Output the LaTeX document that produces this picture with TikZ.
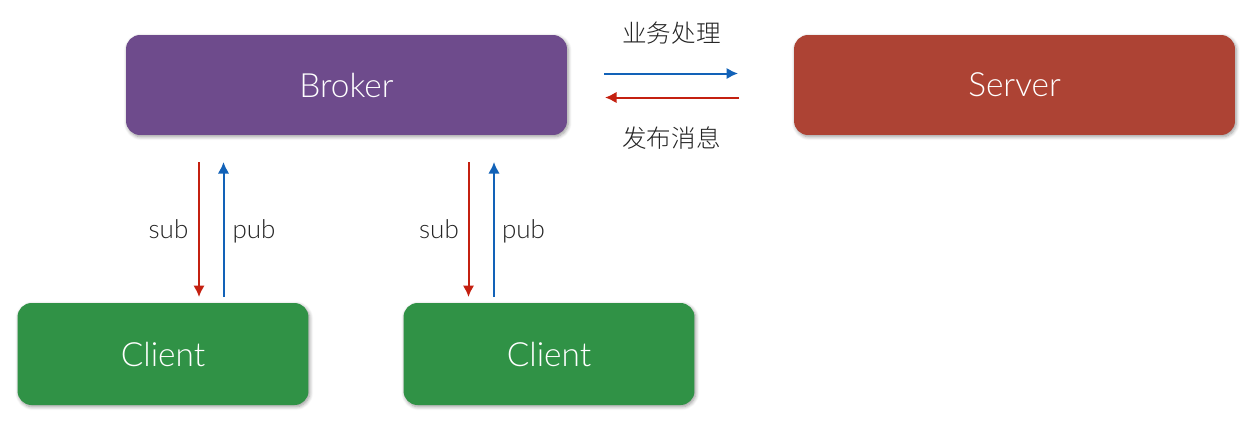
\documentclass[tikz,border=0pt]{standalone}
\usepackage{fontspec}
\setmainfont{Lato}[UprightFont=* Light]
\newfontfamily\cjk{Noto Sans CJK SC}[UprightFont=* Light]
\usetikzlibrary{arrows.meta,shadows.blur}
\definecolor{brokerpurple}{RGB}{110,75,140}
\definecolor{serverred}{RGB}{173,67,52}
\definecolor{clientgreen}{RGB}{48,146,70}
\definecolor{arrowblue}{RGB}{18,98,184}
\definecolor{arrowred}{RGB}{196,32,16}
\definecolor{labelgray}{RGB}{35,35,35}
\tikzset{
	box/.style={rounded corners=2.8mm, inner sep=0pt, text=white, font=\fontsize{19}{20}\selectfont,
		blur shadow={shadow xshift=0.25mm, shadow yshift=-0.35mm, shadow blur radius=0.7mm, shadow blur steps=6, shadow opacity=40}},
	flow/.style={line width=0.4mm, -{Latex[length=2.3mm,width=2.3mm]}},
	lbl/.style={anchor=base, text=labelgray, font=\fontsize{14.8}{16}\selectfont},
	cjklbl/.style={text=labelgray, font=\cjk\fontsize{14}{16}\selectfont},
}
\begin{document}
\begin{tikzpicture}[x=0.02cm, y=-0.02cm]
	\useasboundingbox (0, 0) rectangle (1256, 427);

	%%%%% BOXES %%%%%
	\node[box, fill=brokerpurple, minimum width=8.82cm, minimum height=2cm] (broker) at (346.5, 85) {Broker};
	\node[box, fill=serverred, minimum width=8.82cm, minimum height=2cm] (server) at (1014.5, 85) {Server};
	\node[box, fill=clientgreen, minimum width=5.82cm, minimum height=2.04cm] (clienta) at (163, 354) {Client};
	\node[box, fill=clientgreen, minimum width=5.82cm, minimum height=2.04cm] (clientb) at (549, 354) {Client};

	%%%%% ENDS OF THE ARROWS %%%%%
	\coordinate (subatop) at (199, 162);
	\coordinate (subabot) at (199, 297);
	\coordinate (pubatop) at (223.5, 162);
	\coordinate (pubabot) at (223.5, 297);
	\coordinate (subbtop) at (468.5, 162);
	\coordinate (subbbot) at (468.5, 297);
	\coordinate (pubbtop) at (494, 162);
	\coordinate (pubbbot) at (494, 297);
	\coordinate (bizleft) at (604, 73.5);
	\coordinate (bizright) at (738, 73.5);
	\coordinate (msgleft) at (605, 97.5);
	\coordinate (msgright) at (739, 97.5);

	%%%%% ARROWS %%%%%
	\draw[flow, color=arrowred] (subatop) -- (subabot);
	\draw[flow, color=arrowblue] (pubabot) -- (pubatop);
	\draw[flow, color=arrowred] (subbtop) -- (subbbot);
	\draw[flow, color=arrowblue] (pubbbot) -- (pubbtop);
	\draw[flow, color=arrowblue] (bizleft) -- (bizright);
	\draw[flow, color=arrowred] (msgright) -- (msgleft);

	%%%%% LABELS %%%%%
	\node[lbl] (suba) at (168.5, 238) {sub};
	\node[lbl] (puba) at (254, 238) {pub};
	\node[lbl] (subb) at (439, 238) {sub};
	\node[lbl] (pubb) at (523.5, 238) {pub};
	\node[cjklbl] (biz) at (671.5, 33) {业务处理};
	\node[cjklbl] (msg) at (671.5, 138) {发布消息};
\end{tikzpicture}
\end{document}
